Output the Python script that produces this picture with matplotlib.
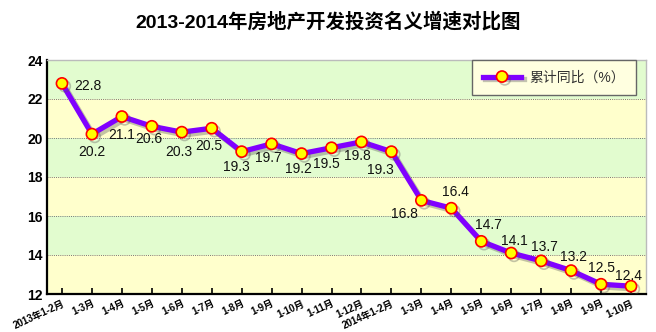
import matplotlib
matplotlib.use("Agg")
import matplotlib.pyplot as plt
import matplotlib.patheffects as pe

plt.rcParams['font.family'] = ['Liberation Sans', 'Noto Sans CJK SC', 'DejaVu Sans']

months = ["2013年1-2月", "1-3月", "1-4月", "1-5月", "1-6月", "1-7月", "1-8月", "1-9月",
          "1-10月", "1-11月", "1-12月", "2014年1-2月", "1-3月", "1-4月", "1-5月", "1-6月",
          "1-7月", "1-8月", "1-9月", "1-10月"]
growth = [22.8, 20.2, 21.1, 20.6, 20.3, 20.5, 19.3, 19.7, 19.2, 19.5,
          19.8, 19.3, 16.8, 16.4, 14.7, 14.1, 13.7, 13.2, 12.5, 12.4]
# label offsets in points (dx, dy) relative to each marker
label_offsets = [(19, -2), (0, -13), (0, -13), (-2, -9), (-2, -14), (-2, -13), (-4, -11),
                 (-2, -10), (-2, -11), (-4, -12), (-3, -10), (-8, -13), (-12, -10),
                 (3, 12), (5, 12), (2, 9), (2, 10), (2, 10), (0, 12), (-2, 7)]

fig = plt.figure(figsize=(6.56, 3.32), dpi=100)
ax = fig.add_axes([47 / 656, 1 - 294 / 332, 599 / 656, 234 / 332])

x = list(range(len(growth)))
ax.set_xlim(-0.5, len(growth) - 0.5)
ax.set_ylim(12, 24)

# alternating horizontal bands
for i, lo in enumerate(range(12, 24, 2)):
    ax.axhspan(lo, lo + 2, color="#FFFFCC" if i % 2 == 0 else "#E2FCCF", zorder=0, lw=0)
for yv in range(14, 24, 2):
    ax.axhline(yv, color="#777777", ls=(0, (1, 1.2)), lw=0.7, zorder=1)

ax.plot(x, growth, "-o", color="#8000FF", lw=3.8, markersize=8,
        markerfacecolor="#FFFF00", markeredgecolor="#FF0000", markeredgewidth=1.2,
        zorder=3, label="累计同比（%）",
        path_effects=[pe.SimpleLineShadow(offset=(2, -2), shadow_color="#555555", alpha=0.35),
                      pe.Normal()])

for xi, v, (dx, dy) in zip(x, growth, label_offsets):
    ax.annotate(f"{v:.1f}", (xi, v), xytext=(dx, dy), textcoords="offset points",
                ha="center", va="center", fontsize=10, color="#111111", zorder=4)

ax.set_xticks(x)
ax.set_xticklabels(months, rotation=25, ha="right", rotation_mode="anchor",
                   fontsize=7, fontweight="bold")
ax.set_yticks(range(12, 25, 2))
ax.tick_params(axis="y", labelsize=10, length=0, pad=3)
for t in ax.get_yticklabels():
    t.set_fontweight("bold")
ax.tick_params(axis="x", direction="in", length=4, width=1.2, pad=3)

for side in ("left", "bottom"):
    ax.spines[side].set_color("black")
    ax.spines[side].set_linewidth(1.6)
for side in ("top", "right"):
    ax.spines[side].set_color("#BBBBBB")
    ax.spines[side].set_linewidth(1.0)

leg = ax.legend(loc="upper right", bbox_to_anchor=(0.983, 1.0), borderaxespad=0,
                fontsize=10, frameon=True, fancybox=False, handlelength=2.8,
                borderpad=0.75, handletextpad=0.6)
leg.get_frame().set_edgecolor("#666666")
leg.get_frame().set_facecolor("#FFFFE0")
leg.get_frame().set_alpha(1)
for t in leg.get_texts():
    t.set_color("#333333")

fig.text(328 / 656, 1 - 22 / 332, "2013-2014年房地产开发投资名义增速对比图",
         ha="center", va="center", fontsize=14, fontweight="bold")

fig.savefig("out.png", dpi=100)
